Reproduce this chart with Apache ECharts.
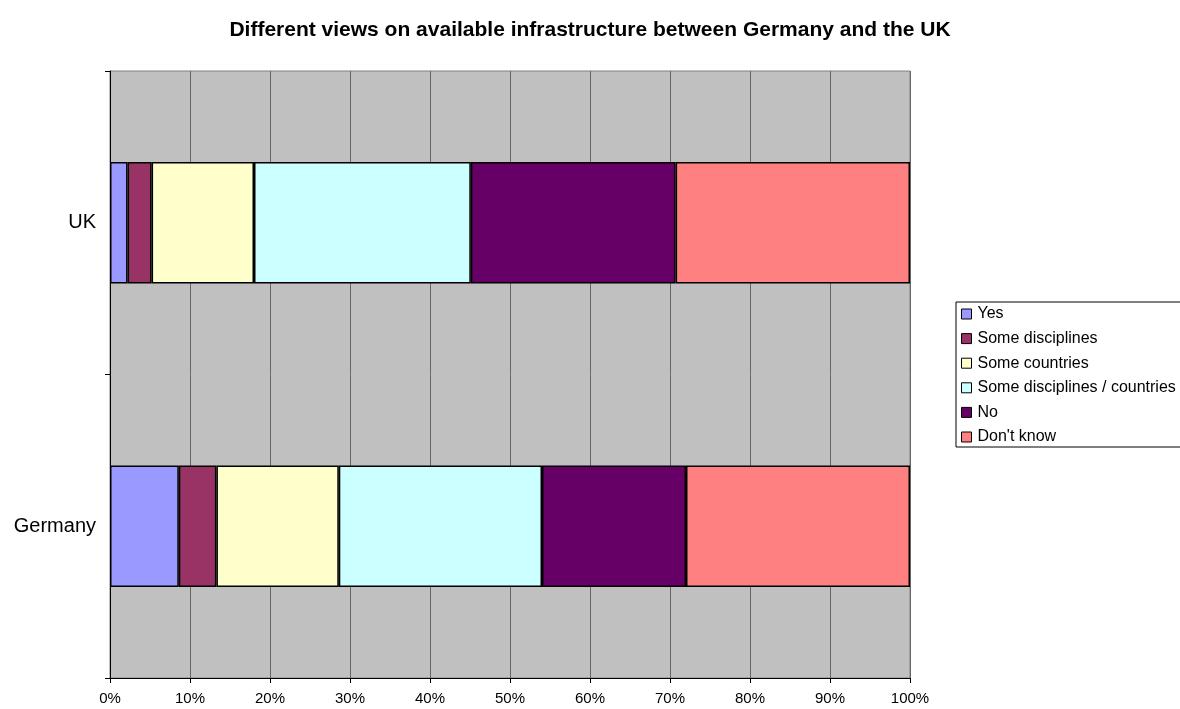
<!DOCTYPE html>
<html>
<head>
<meta charset="utf-8">
<script src="https://cdn.jsdelivr.net/npm/echarts@6/dist/echarts.min.js"></script>
<style>
  html, body { margin: 0; padding: 0; background: #fff; }
  #chart { width: 1180px; height: 709px; }
</style>
</head>
<body>
<div id="chart"></div>
<script>
// categories on the vertical axis (bottom to top)
const countries = ['Germany', 'UK'];
// answer groups, in stack order
const answers = ['Yes', 'Some disciplines', 'Some countries', 'Some disciplines / countries', 'No', "Don't know"];
const colors = ['#9999FF', '#993366', '#FFFFCC', '#CCFFFF', '#660066', '#FF8080'];

// share of answers in percent, [Germany, UK]
const yes = [8.6, 2.2];
const someDisciplines = [4.7, 3.0];
const someCountries = [15.3, 12.8];
const someDiscCountries = [25.4, 27.1];
const no = [18.0, 25.6];
const dontKnow = [28.0, 29.3];

const values = [yes, someDisciplines, someCountries, someDiscCountries, no, dontKnow];

const font = 'Liberation Sans, Arial, sans-serif';
const chart = echarts.init(document.getElementById('chart'));

chart.setOption({
  animation: false,
  title: {
    text: 'Different views on available infrastructure between Germany and the UK',
    left: 'center',
    top: 15,
    textStyle: {
      fontFamily: font,
      fontSize: 21,
      fontWeight: 'bold',
      color: '#000'
    }
  },
  legend: {
    orient: 'vertical',
    left: 956,
    top: 302,
    data: answers,
    itemWidth: 10,
    itemHeight: 10,
    itemGap: 8.6,
    padding: [4, 40, 2, 5],
    borderColor: '#000',
    borderWidth: 1,
    icon: 'rect',
    itemStyle: { borderColor: '#000', borderWidth: 1 },
    textStyle: {
      fontFamily: font,
      fontSize: 16,
      color: '#000',
      padding: [0, 0, 0, 1]
    }
  },
  grid: {
    left: 110,
    right: 270,
    top: 71,
    bottom: 31,
    show: true,
    backgroundColor: '#C0C0C0',
    borderColor: '#808080',
    borderWidth: 1
  },
  xAxis: {
    type: 'value',
    min: 0,
    max: 100,
    interval: 10,
    axisLine: { show: true, lineStyle: { color: '#000', width: 1 } },
    axisTick: { show: true, length: 5, lineStyle: { color: '#000' } },
    axisLabel: {
      formatter: '{value}%',
      color: '#000',
      fontFamily: font,
      fontSize: 15,
      margin: 13
    },
    splitLine: { show: true, lineStyle: { color: '#666', width: 1 } }
  },
  yAxis: {
    type: 'category',
    data: countries,
    axisLine: { show: true, lineStyle: { color: '#000', width: 1 } },
    axisTick: { show: true, length: 5, lineStyle: { color: '#000' } },
    axisLabel: {
      color: '#000',
      fontFamily: font,
      fontSize: 20,
      margin: 14
    },
    splitLine: { show: false }
  },
  series: answers.map((name, i) => ({
    name: name,
    type: 'bar',
    stack: 'total',
    barWidth: '40%',
    data: values[i],
    itemStyle: {
      color: colors[i],
      borderColor: '#000',
      borderWidth: 1.5
    }
  }))
});
</script>
</body>
</html>
